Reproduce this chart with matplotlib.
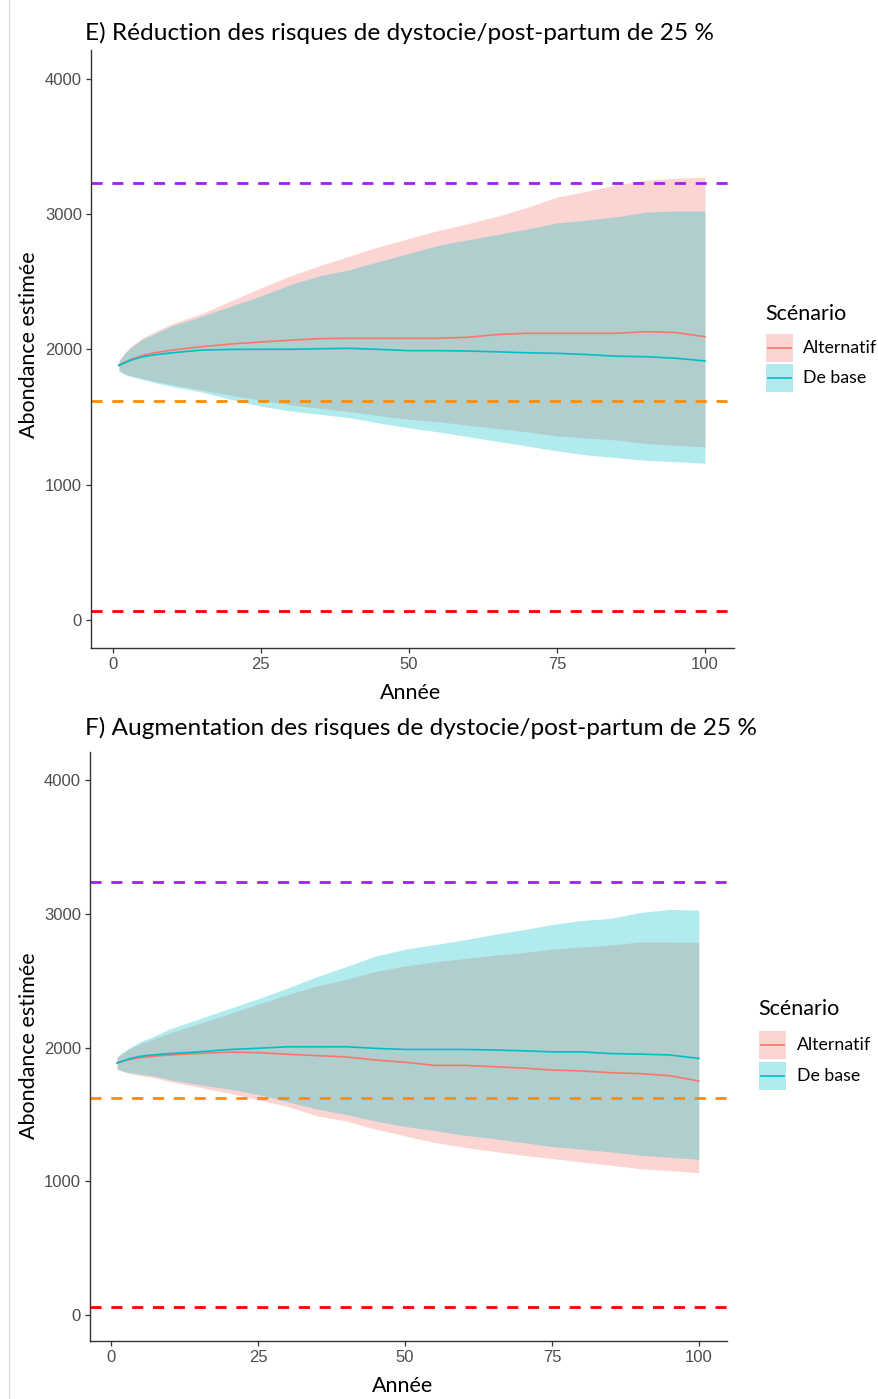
import matplotlib
matplotlib.use("Agg")
import matplotlib.pyplot as plt
from matplotlib.patches import Rectangle
from matplotlib.lines import Line2D

# ---------------- data ----------------
years = [1, 2, 3, 5, 7, 10, 15, 20, 25, 30, 35, 40, 45, 50, 55, 60, 65, 70, 75, 80, 85, 90, 95, 100]

# Panel E: reduction of risks
e_alt_mean = [1885, 1905, 1925, 1955, 1975, 1995, 2020, 2040, 2055, 2068, 2080, 2082, 2082, 2082, 2082, 2090, 2110, 2119, 2119, 2119, 2119, 2131, 2125, 2094]
e_alt_low = [1845, 1820, 1805, 1785, 1765, 1740, 1700, 1660, 1625, 1590, 1565, 1540, 1510, 1485, 1465, 1440, 1415, 1390, 1360, 1345, 1330, 1305, 1290, 1280]
e_alt_high = [1915, 1975, 2020, 2085, 2130, 2190, 2265, 2360, 2455, 2545, 2620, 2690, 2760, 2820, 2880, 2930, 2985, 3050, 3125, 3170, 3215, 3250, 3265, 3272]
e_base_mean = [1880, 1900, 1920, 1945, 1960, 1975, 1995, 2000, 2001, 2001, 2005, 2008, 2000, 1991, 1991, 1988, 1982, 1975, 1971, 1962, 1950, 1946, 1935, 1915]
e_base_low = [1840, 1815, 1800, 1778, 1755, 1725, 1685, 1630, 1580, 1545, 1520, 1495, 1455, 1420, 1390, 1355, 1320, 1285, 1250, 1220, 1200, 1180, 1170, 1158]
e_base_high = [1910, 1970, 2012, 2075, 2115, 2175, 2245, 2320, 2395, 2480, 2545, 2590, 2650, 2710, 2770, 2810, 2850, 2890, 2935, 2955, 2980, 3015, 3023, 3023]

# Panel F: increase of risks
f_alt_mean = [1885, 1898, 1910, 1925, 1935, 1945, 1956, 1966, 1962, 1950, 1940, 1930, 1907, 1890, 1867, 1867, 1857, 1847, 1832, 1825, 1812, 1805, 1790, 1750]
f_alt_low = [1837, 1820, 1808, 1790, 1778, 1745, 1703, 1660, 1610, 1560, 1490, 1450, 1390, 1340, 1290, 1255, 1225, 1195, 1170, 1145, 1120, 1095, 1080, 1064]
f_alt_high = [1928, 1960, 1988, 2030, 2060, 2110, 2180, 2250, 2325, 2395, 2460, 2510, 2570, 2610, 2640, 2665, 2690, 2710, 2735, 2752, 2766, 2790, 2790, 2786]
f_base_mean = [1885, 1900, 1915, 1935, 1945, 1955, 1968, 1985, 1995, 2006, 2006, 2006, 1994, 1986, 1986, 1986, 1982, 1976, 1968, 1968, 1955, 1951, 1945, 1919]
f_base_low = [1840, 1825, 1815, 1800, 1790, 1760, 1722, 1690, 1650, 1595, 1540, 1500, 1450, 1410, 1380, 1345, 1320, 1290, 1260, 1240, 1220, 1195, 1180, 1164]
f_base_high = [1930, 1965, 1995, 2045, 2080, 2140, 2215, 2290, 2365, 2445, 2530, 2605, 2685, 2735, 2770, 2805, 2845, 2880, 2920, 2950, 2966, 3010, 3033, 3028]

# Reference thresholds
e_thresholds = [3230, 1619, 67]
f_thresholds = [3237, 1622, 60]
threshold_colors = ["#A020F0", "#FF8C00", "#FF0000"]

x_ticks = [0, 25, 50, 75, 100]
y_ticks = [0, 1000, 2000, 3000, 4000]

scenarios = ["Alternatif", "De base"]
scen_colors = ["#F8766D", "#00BFC4"]

title_e = "E) Réduction des risques de dystocie/post-partum de 25 %"
title_f = "F) Augmentation des risques de dystocie/post-partum de 25 %"
xlabel = "Année"
ylabel = "Abondance estimée"
legend_title = "Scénario"

# ---------------- figure ----------------
W, H = 879, 1399
fig = plt.figure(figsize=(W / 100, H / 100), dpi=100)

title_font = ["Lato", "DejaVu Sans"]
tick_font = ["Liberation Sans Narrow", "Liberation Sans", "DejaVu Sans"]


def px_rect(l, t, r, b):
    return [l / W, 1 - b / H, (r - l) / W, (b - t) / H]


def draw_panel(rect, alt, base, thresholds, xlim, ylim):
    ax = fig.add_axes(rect)
    (am, al, ah), (bm, bl, bh) = alt, base
    ax.fill_between(years, al, ah, color=scen_colors[0], alpha=0.3, lw=0)
    ax.fill_between(years, bl, bh, color=scen_colors[1], alpha=0.3, lw=0)
    ax.plot(years, am, color=scen_colors[0], lw=1.2)
    ax.plot(years, bm, color=scen_colors[1], lw=1.2)
    for v, c in zip(thresholds, threshold_colors):
        ax.axhline(v, color=c, lw=2.0, linestyle=(0, (4, 3.5)))
    ax.set_xlim(*xlim)
    ax.set_ylim(*ylim)
    ax.set_xticks(x_ticks)
    ax.set_yticks(y_ticks)
    for s in ["top", "right"]:
        ax.spines[s].set_visible(False)
    for s in ["left", "bottom"]:
        ax.spines[s].set_color("#333333")
        ax.spines[s].set_linewidth(1.0)
    ax.tick_params(length=3.5, width=0.9, color="#333333", labelcolor="#4D4D4D",
                   labelsize=12, pad=3)
    for lab in ax.get_xticklabels() + ax.get_yticklabels():
        lab.set_family(tick_font)
    ax.set_facecolor("white")
    return ax


draw_panel(px_rect(91, 50, 734, 648),
           (e_alt_mean, e_alt_low, e_alt_high),
           (e_base_mean, e_base_low, e_base_high),
           e_thresholds, (-3.7, 104.9), (-207, 4213))

draw_panel(px_rect(90, 752, 727, 1341),
           (f_alt_mean, f_alt_low, f_alt_high),
           (f_base_mean, f_base_low, f_base_high),
           f_thresholds, (-3.6, 104.8), (-194, 4210))

# overlay in pixel coordinates for texts and legends
ov = fig.add_axes([0, 0, 1, 1], zorder=5)
ov.set_xlim(0, W)
ov.set_ylim(H, 0)
ov.axis("off")
ov.patch.set_alpha(0)

# faint frame line at left
ov.plot([9.5, 9.5], [0, H], color="#d9d9d9", lw=0.8)

ov.text(85, 33, title_e, fontsize=17.6, family=title_font, va="center", ha="left")
ov.text(85, 728, title_f, fontsize=17.6, family=title_font, va="center", ha="left")

ov.text(29, 345, ylabel, fontsize=15.5, family=title_font, rotation=90, va="center", ha="center")
ov.text(29, 1046, ylabel, fontsize=15.5, family=title_font, rotation=90, va="center", ha="center")
ov.text(411, 693, xlabel, fontsize=15.5, family=title_font, va="center", ha="center")
ov.text(403, 1386, xlabel, fontsize=15.5, family=title_font, va="center", ha="center")


def draw_legend(x0, ytitle, ykeys, xlab):
    ov.text(x0 - 1, ytitle, legend_title, fontsize=15.5, family=title_font, va="center", ha="left")
    for (yt, yb), name, col in zip(ykeys, scenarios, scen_colors):
        ov.add_patch(Rectangle((x0, yt), 27, yb - yt, facecolor=col, alpha=0.3, lw=0))
        ym = (yt + yb) / 2
        ov.add_line(Line2D([x0 + 2, x0 + 25], [ym, ym], color=col, lw=1.2))
        ov.text(xlab, ym, name, fontsize=12.8, family=title_font, va="center", ha="left")


draw_legend(766, 314, [(334, 362), (364, 392)], 803)
draw_legend(759, 1009, [(1031, 1059), (1062, 1090)], 797)

fig.savefig("out.png", dpi=100, facecolor="white")
